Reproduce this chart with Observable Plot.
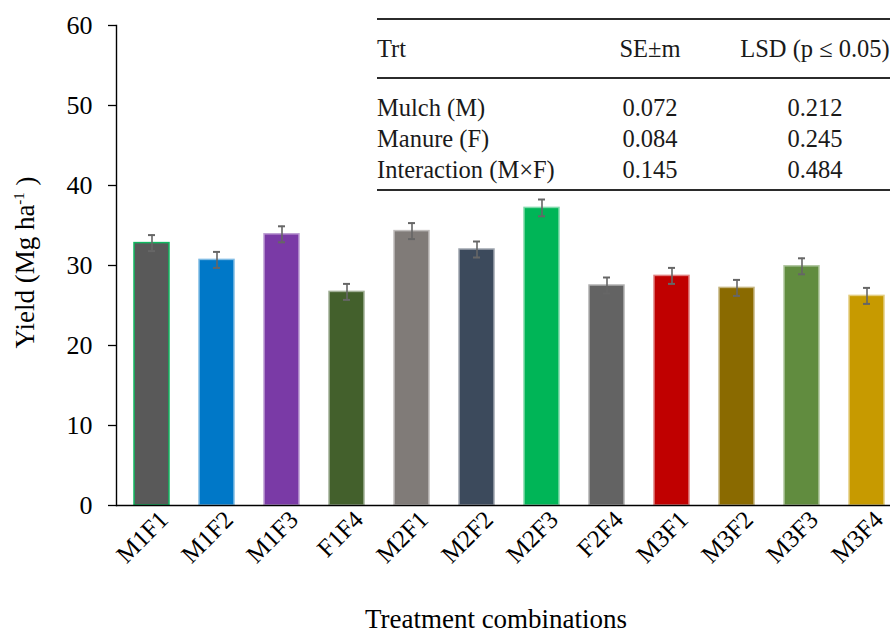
<!DOCTYPE html>
<html>
<head>
<meta charset="utf-8">
<script src="https://cdn.jsdelivr.net/npm/d3@7"></script>
<script src="https://cdn.jsdelivr.net/npm/@observablehq/plot@0.6"></script>
<style>
  html, body { margin: 0; padding: 0; background: #fff; overflow: hidden; }
  #wrap { position: relative; width: 890px; height: 633px; overflow: hidden; font-family: "Liberation Serif", "Times New Roman", serif; }
  #chart svg { font-family: "Liberation Serif", "Times New Roman", serif; }
  #chart svg g[aria-label="y-axis tick label"] { font-size: 26px; }
  #chart svg g[aria-label="x-axis tick label"] { font-size: 25px; }
  #tbl { position: absolute; left: 377px; top: 18px; width: 513px; border-top: 2px solid #2b2b2b; border-bottom: 2px solid #2b2b2b; font-size: 24.5px; color: #1a1a1a; }
  #tbl .head { height: 57px; line-height: 57px; border-bottom: 2px solid #2b2b2b; display: flex; }
  #tbl .body { padding-top: 13px; padding-bottom: 3px; }
  #tbl .row { height: 31.2px; line-height: 31.2px; display: flex; }
  #tbl .c1 { width: 213px; flex: 0 0 213px; text-align: left; white-space: nowrap; }
  #tbl .c2 { width: 120px; flex: 0 0 120px; text-align: center; white-space: nowrap; }
  #tbl .c3 { width: 210px; flex: 0 0 210px; text-align: center; white-space: nowrap; }
</style>
</head>
<body>
<div id="wrap">
  <div id="chart"></div>
  <div id="tbl"></div>
</div>
<script>
// ---- chart data ----
const treatments = ["M1F1","M1F2","M1F3","F1F4","M2F1","M2F2","M2F3","F2F4","M3F1","M3F2","M3F3","M3F4"];
const yields     = [32.8, 30.7, 33.9, 26.7, 34.3, 32.0, 37.2, 27.5, 28.7, 27.2, 29.9, 26.2];
const errors     = [1.0, 1.0, 1.0, 1.0, 1.0, 1.0, 1.05, 1.0, 1.0, 1.0, 1.0, 1.0];
const barColors  = ["#595959","#0078c8","#7a3aa6","#43602c","#807b78","#3c4a5c","#00b557","#636363","#c00000","#8a6a00","#618c3f","#c79a00"];
const yTicks     = [0, 10, 20, 30, 40, 50, 60];

// ---- table data ----
const tableHeader = ["Trt", "SE±m", "LSD (p ≤ 0.05)"];
const sources     = ["Mulch (M)", "Manure (F)", "Interaction (M×F)"];
const seM         = ["0.072", "0.084", "0.145"];
const lsd         = ["0.212", "0.245", "0.484"];

const data = treatments.map((t, i) => ({trt: t, yield: yields[i], err: errors[i]}));
const outlines = barColors.map((c, i) => i === 0 ? "#10b860" : d3.interpolateRgb(c, "#ffffff")(0.5));

const chart = Plot.plot({
  width: 890,
  height: 633,
  marginTop: 25,
  marginBottom: 128,
  marginLeft: 116,
  marginRight: -11,
  style: {fontFamily: "'Liberation Serif', 'Times New Roman', serif", fontSize: "24px", color: "#000", background: "transparent"},
  x: {type: "band", domain: treatments, paddingInner: 0.465, paddingOuter: 0.235, label: null},
  y: {domain: [0, 60], label: null},
  color: {type: "ordinal", domain: treatments, range: barColors},
  marks: [
    Plot.barY(data, {x: "trt", y: "yield", fill: "trt", stroke: d => outlines[treatments.indexOf(d.trt)], strokeWidth: 1.5}),
    Plot.ruleX(data, {x: "trt", y1: d => d.yield - d.err, y2: d => d.yield + d.err, stroke: "#666", strokeWidth: 1.6}),
    Plot.tickY(data, {x: "trt", y: d => d.yield + d.err, stroke: "#666", strokeWidth: 2, insetLeft: 14, insetRight: 14}),
    Plot.tickY(data, {x: "trt", y: d => d.yield - d.err, stroke: "#666", strokeWidth: 2, insetLeft: 14, insetRight: 14}),
    Plot.axisY({ticks: yTicks, tickSize: 8, tickPadding: 16, strokeWidth: 1.3, label: null, fontSize: 26}),
    Plot.axisX({tickSize: 0, tickRotate: -45, tickPadding: 10, dx: 12, label: null, fontSize: 25}),
    Plot.frame({anchor: "left", stroke: "#000", strokeWidth: 1.4}),
    Plot.ruleY([0], {stroke: "#000", strokeWidth: 1.6}),
    Plot.text(["Yield (Mg ha-1)"], {frameAnchor: "left", textAnchor: "middle", rotate: -90, dx: -91, dy: -3, fontSize: 27, fill: "#000"}),
    Plot.text(["Treatment combinations"], {frameAnchor: "bottom", dx: -13, dy: 122, fontSize: 27, fill: "#000"})
  ]
});
document.getElementById("chart").appendChild(chart);

// superscript for the y label
chart.querySelectorAll("text").forEach(t => {
  if (t.textContent === "Yield (Mg ha-1)") {
    const ns = "http://www.w3.org/2000/svg";
    t.textContent = "";
    const a = document.createElementNS(ns, "tspan"); a.textContent = "Yield (Mg ha";
    const s = document.createElementNS(ns, "tspan"); s.textContent = "-1"; s.setAttribute("font-size", "15"); s.setAttribute("dy", "-0.65em");
    const b = document.createElementNS(ns, "tspan"); b.textContent = " )"; b.setAttribute("dy", "0.4em");
    t.append(a, s, b);
  }
});

// table
const tbl = document.getElementById("tbl");
const head = document.createElement("div"); head.className = "head";
tableHeader.forEach((h, i) => { const c = document.createElement("div"); c.className = "c" + (i + 1); c.textContent = h; head.appendChild(c); });
tbl.appendChild(head);
const body = document.createElement("div"); body.className = "body";
sources.forEach((s, i) => {
  const r = document.createElement("div"); r.className = "row";
  [s, seM[i], lsd[i]].forEach((v, j) => { const c = document.createElement("div"); c.className = "c" + (j + 1); c.textContent = v; r.appendChild(c); });
  body.appendChild(r);
});
tbl.appendChild(body);
</script>
</body>
</html>
